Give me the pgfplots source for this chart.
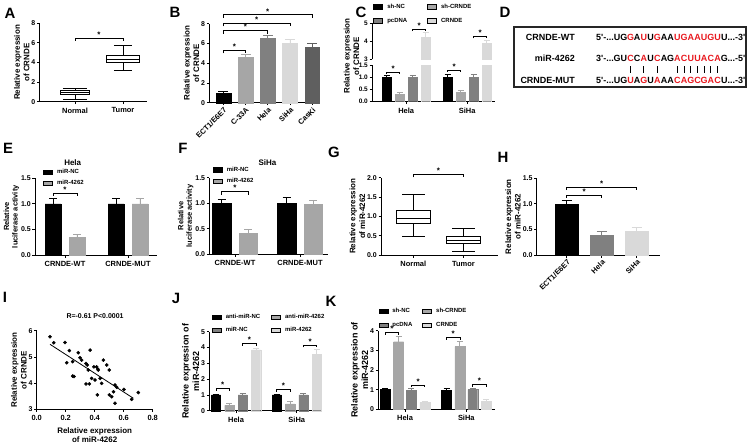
\documentclass[border=0pt]{standalone}
\usepackage{fontspec}
\setmainfont{Liberation Sans}
\usepackage{pgfplots}
\pgfplotsset{compat=1.18}
\usepgfplotslibrary{statistics}

\definecolor{ga}{HTML}{A6A6A6}
\definecolor{gb}{HTML}{808080}
\definecolor{gc}{HTML}{D9D9D9}
\definecolor{gd}{HTML}{5F5F5F}
\definecolor{sred}{HTML}{E8191F}

\newcommand\tlf{\fontsize{7}{8}\selectfont\bfseries}
\newcommand\xtf{\fontsize{7.5}{8}\selectfont\bfseries}
\newcommand\lbf{\fontsize{8}{9.6}\selectfont\bfseries}
\newcommand\lbs{\fontsize{7.5}{8.5}\selectfont\bfseries}
\newcommand\lbb{\fontsize{9}{10.5}\selectfont\bfseries}
\newcommand\lgf{\fontsize{6}{7}\selectfont\bfseries}
\newcommand\plf{\fontsize{15}{15}\selectfont\bfseries}
\newcommand\sqf{\fontsize{9}{10}\selectfont\bfseries}
\newcommand\sqa[1]{\makebox[6.7bp][c]{#1}}
\newcommand\sqr[1]{\makebox[6.7bp][c]{\color{sred}#1}}
\newcommand\sqb{\makebox[6.7bp][c]{\rule{0.9bp}{7bp}}}
\newcommand\sqn{\makebox[6.7bp][c]{}}

\tikzset{sig/.style={anchor=base, inner sep=0pt, font=\fontsize{8}{8}\selectfont\bfseries, yshift=0.8bp}}

\pgfplotsset{
  prism/.style={
    scale only axis, anchor=south west, clip=false,
    axis lines*=left,
    axis line style={line width=0.8bp, black},
    every tick/.style={line width=0.8bp, black},
    tick align=outside, major tick length=2.5bp,
    yticklabel style={font=\tlf, inner sep=1.5bp},
    xticklabel style={font=\xtf},
    ylabel style={font=\lbf, align=center},
    xlabel style={font=\lbf, align=center},
    ylabel shift=-3bp,
    boxplot/draw direction=y,
    /pgf/number format/assume math mode=true,
  },
  dec1/.style={yticklabel style={/pgf/number format/fixed, /pgf/number format/fixed zerofill, /pgf/number format/precision=1}},
  bb/.style n args={3}{ybar, bar width=#1, bar shift=0, fill=#2, draw=#2, forget plot,
     error bars/.cd, y dir=plus, y explicit,
     error bar style={line width=0.8bp, draw=#2},
     error mark options={rotate=90, line width=0.8bp, mark size=#3, draw=#2}},
  brk/.style={black, line width=0.7bp, forget plot, mark=none},
  leg/.style={legend image code/.code={\fill[##1] (0bp,-2.2bp) rectangle (9bp,2.2bp);},
     legend cell align=left,
     legend style={draw=none, fill=none, inner sep=0pt, font=\lgf, anchor=north west,
       /tikz/every odd column/.append style={column sep=2.5bp}}},
}

\begin{document}
\begin{tikzpicture}
\path[use as bounding box] (0,0) rectangle (752bp,-444bp);

% ---------------- A ----------------
\begin{axis}[prism, at={(39.5bp,-101.7bp)}, width=107.2bp, height=78.4bp,
  xmin=0.261, xmax=2.493, ymin=0, ymax=8, ytick={0,2,4,6,8},
  xtick={1,2}, xticklabels={Normal,Tumor}, ylabel={Relative expression\\of CRNDE}]
\addplot[black, line width=0.8bp, fill=white, boxplot prepared={draw position=1,
  lower whisker=0.24, lower quartile=0.7, median=0.92, upper quartile=1.15, upper whisker=1.38,
  box extend=0.6, whisker extend=0.5}] coordinates {};
\addplot[black, line width=0.8bp, fill=white, boxplot prepared={draw position=2,
  lower whisker=3.23, lower quartile=3.98, median=4.32, upper quartile=4.7, upper whisker=5.72,
  box extend=0.7, whisker extend=0.38}] coordinates {};
\addplot[brk] coordinates {(1,6.2) (1,6.5) (2,6.5) (2,6.2)};
\node[sig] at (axis cs:1.5,6.5) {*};
\end{axis}

% ---------------- B ----------------
\begin{axis}[prism, at={(209.3bp,-102.7bp)}, width=108.7bp, height=79bp,
  xmin=-0.63, xmax=4.26, ymin=0, ymax=8, ytick={0,2,4,6,8},
  xtick={0,1,2,3,4}, xticklabels={ECT1/E6E7,C-33A,Hela,SiHa,CasKi},
  xticklabel style={rotate=45, anchor=north east, inner sep=1bp},
  ylabel={Relative expression\\of CRNDE}]
\addplot[bb={0.67}{black}{5bp}] coordinates {(0,1.0) +- (0,0.12)};
\addplot[bb={0.67}{ga}{5bp}] coordinates {(1,4.6) +- (0,0.3)};
\addplot[bb={0.67}{gb}{5bp}] coordinates {(2,6.5) +- (0,0.33)};
\addplot[bb={0.67}{gc}{5bp}] coordinates {(3,6.05) +- (0,0.37)};
\addplot[bb={0.67}{gd}{5bp}] coordinates {(4,5.57) +- (0,0.42)};
\addplot[brk] coordinates {(0,5.0) (0,5.34) (1,5.34) (1,5.0)};
\addplot[brk] coordinates {(0,7.0) (0,7.3) (2,7.3) (2,7.0)};
\addplot[brk] coordinates {(0,7.74) (0,8.04) (3,8.04) (3,7.74)};
\addplot[brk] coordinates {(0,8.6) (0,8.9) (4,8.9) (4,8.6)};
\node[sig] at (axis cs:0.5,5.34) {*};
\node[sig] at (axis cs:1,7.3) {*};
\node[sig] at (axis cs:1.5,8.04) {*};
\node[sig] at (axis cs:2,8.9) {*};
\end{axis}

% ---------------- C (broken axis) ----------------
\begin{axis}[prism, leg, clip=true, clip mode=individual, at={(372bp,-101.7bp)}, width=123bp, height=36.7bp,
  yticklabel style={font=\fontsize{6.5}{7}\selectfont\bfseries}, dec1,
  xmin=0.439, xmax=2.456, ymin=0, ymax=1.5, ytick={0,0.5,1,1.5},
  xtick={1,2}, xticklabels={Hela,SiHa},
  legend columns=2,
  legend style={at={(0.01,2.73)}, row sep=4.5bp, /tikz/every even column/.append style={column sep=18bp}}]
\addlegendimage{fill=black}\addlegendentry{sh-NC}
\addlegendimage{fill=ga}\addlegendentry{sh-CRNDE}
\addlegendimage{fill=gb}\addlegendentry{pcDNA}
\addlegendimage{fill=gc}\addlegendentry{CRNDE}
\addplot[bb={0.15}{black}{3bp}] coordinates {(0.68,1.0) +- (0,0.09) (1.68,1.0) +- (0,0.12)};
\addplot[bb={0.15}{ga}{3bp}] coordinates {(0.894,0.30) +- (0,0.06) (1.894,0.38) +- (0,0.07)};
\addplot[bb={0.15}{gb}{3bp}] coordinates {(1.106,1.0) +- (0,0.06) (2.106,1.0) +- (0,0.12)};
\addplot[bb={0.15}{gc}{3bp}] coordinates {(1.32,4.22) +- (0,0.28) (2.32,3.89) +- (0,0.14)};
\addplot[brk] coordinates {(0.68,1.15) (0.68,1.22) (0.894,1.22) (0.894,1.15)};
\addplot[brk] coordinates {(1.68,1.22) (1.68,1.29) (1.894,1.29) (1.894,1.22)};
\node[sig] at (axis cs:0.787,1.22) {*};
\node[sig] at (axis cs:1.787,1.29) {*};
\end{axis}
\begin{axis}[prism, clip=true, clip mode=individual, at={(372bp,-59.3bp)}, width=123bp, height=36bp,
  yticklabel style={font=\fontsize{6.5}{7}\selectfont\bfseries},
  axis x line=none, axis y line*=left,
  xmin=0.439, xmax=2.456, ymin=3, ymax=5, ytick={3,4,5}]
\addplot[bb={0.15}{gc}{3bp}] coordinates {(1.32,4.22) +- (0,0.28) (2.32,3.89) +- (0,0.14)};
\addplot[brk] coordinates {(1.106,4.57) (1.106,4.67) (1.32,4.67) (1.32,4.57)};
\addplot[brk] coordinates {(2.106,4.16) (2.106,4.26) (2.32,4.26) (2.32,4.16)};
\node[sig] at (axis cs:1.213,4.67) {*};
\node[sig] at (axis cs:2.213,4.26) {*};
\end{axis}

% ---------------- E ----------------
\begin{axis}[prism, dec1, leg, at={(35bp,-255bp)}, width=121.7bp, height=76.7bp,
  xmin=0.524, xmax=2.456, ymin=0, ymax=1.5, ytick={0,0.5,1,1.5},
  xtick={1,2}, xticklabels={CRNDE-WT,CRNDE-MUT},
  ylabel={Relative\\luciferase activity}, ylabel style={font=\lbs},
  legend style={at={(0.066,1.15)}, row sep=1.5bp}]
\addlegendimage{fill=black}\addlegendentry{miR-NC}
\addlegendimage{fill=ga}\addlegendentry{miR-4262}
\addplot[bb={0.25}{black}{4bp}] coordinates {(0.81,1.0) +- (0,0.1) (1.81,1.0) +- (0,0.1)};
\addplot[bb={0.25}{ga}{4bp}] coordinates {(1.19,0.35) +- (0,0.055) (2.19,1.0) +- (0,0.1)};
\addplot[brk] coordinates {(0.81,1.15) (0.81,1.21) (1.19,1.21) (1.19,1.15)};
\node[sig] at (axis cs:1,1.21) {*};
\node[font=\lbf] at (rel axis cs:0.31,1.2) {Hela};
\end{axis}

% ---------------- F ----------------
\begin{axis}[prism, dec1, leg, at={(209.3bp,-254.3bp)}, width=118.7bp, height=76.6bp,
  xmin=0.605, xmax=2.43, ymin=0, ymax=1.5, ytick={0,0.5,1,1.5},
  xtick={1,2}, xticklabels={CRNDE-WT,CRNDE-MUT},
  ylabel={Relative\\luciferase activity}, ylabel style={font=\lbs},
  legend style={at={(0.029,1.17)}, row sep=1.5bp}]
\addlegendimage{fill=black}\addlegendentry{miR-NC}
\addlegendimage{fill=ga}\addlegendentry{miR-4262}
\addplot[bb={0.28}{black}{4bp}] coordinates {(0.795,1.0) +- (0,0.08) (1.795,1.0) +- (0,0.12)};
\addplot[bb={0.28}{ga}{4bp}] coordinates {(1.205,0.41) +- (0,0.08) (2.205,0.98) +- (0,0.08)};
\addplot[brk] coordinates {(0.795,1.17) (0.795,1.23) (1.205,1.23) (1.205,1.17)};
\node[sig] at (axis cs:1,1.23) {*};
\node[font=\lbf] at (rel axis cs:0.49,1.196) {SiHa};
\end{axis}

% ---------------- G ----------------
\begin{axis}[prism, dec1, at={(381bp,-255bp)}, width=117bp, height=77.3bp,
  xmin=0.354, xmax=2.69, ymin=0, ymax=2, ytick={0,0.5,1,1.5,2},
  xtick={1,2}, xticklabels={Normal,Tumor}, ylabel={Relative expression\\of miR-4262}]
\addplot[black, line width=0.8bp, fill=white, boxplot prepared={draw position=1,
  lower whisker=0.49, lower quartile=0.82, median=0.94, upper quartile=1.16, upper whisker=1.57,
  box extend=0.67, whisker extend=0.45}] coordinates {};
\addplot[black, line width=0.8bp, fill=white, boxplot prepared={draw position=2,
  lower whisker=0.09, lower quartile=0.30, median=0.39, upper quartile=0.47, upper whisker=0.69,
  box extend=0.67, whisker extend=0.45}] coordinates {};
\addplot[brk] coordinates {(1,2.01) (1,2.09) (2,2.09) (2,2.01)};
\node[sig] at (axis cs:1.5,2.09) {*};
\end{axis}

% ---------------- H ----------------
\begin{axis}[prism, dec1, at={(536.7bp,-255bp)}, width=123.3bp, height=76.7bp,
  xmin=-0.857, xmax=2.666, ymin=0, ymax=1.5, ytick={0,0.5,1,1.5},
  xtick={0,1,2}, xticklabels={ECT1/E6E7,Hela,SiHa},
  xticklabel style={rotate=45, anchor=north east, inner sep=1bp},
  ylabel={Relative expression\\of miR-4262}]
\addplot[bb={0.66}{black}{5bp}] coordinates {(0,1.0) +- (0,0.07)};
\addplot[bb={0.66}{gb}{5bp}] coordinates {(1,0.38) +- (0,0.08)};
\addplot[bb={0.66}{gc}{5bp}] coordinates {(2,0.475) +- (0,0.065)};
\addplot[brk] coordinates {(0,1.12) (0,1.17) (1,1.17) (1,1.12)};
\addplot[brk] coordinates {(0,1.27) (0,1.32) (2,1.32) (2,1.27)};
\node[sig] at (axis cs:0.5,1.17) {*};
\node[sig] at (axis cs:1,1.32) {*};
\end{axis}

% ---------------- I ----------------
\begin{axis}[prism, at={(36.7bp,-409.3bp)}, width=116bp, height=78.6bp,
  xmin=0, xmax=0.8, ymin=3, ymax=6, xtick={0,0.2,0.4,0.6,0.8}, ytick={3,4,5,6},
  xticklabel style={/pgf/number format/fixed, /pgf/number format/fixed zerofill, /pgf/number format/precision=1},
  xlabel={Relative expression\\of miR-4262}, ylabel={Relative expression\\of CRNDE}]
\addplot[only marks, mark=*, mark size=1.6bp, black] coordinates {
 (0.092,5.77) (0.117,5.54) (0.195,5.55) (0.225,5.24) (0.207,4.78) (0.248,4.82)
 (0.248,4.27) (0.257,4.25) (0.287,5.16) (0.299,4.97) (0.310,4.88) (0.340,4.75)
 (0.368,5.26) (0.349,4.69) (0.356,4.50) (0.340,3.97) (0.363,3.97) (0.379,4.18)
 (0.395,4.62) (0.414,4.62) (0.421,4.54) (0.402,4.12) (0.425,4.50) (0.437,4.18)
 (0.448,3.99) (0.460,4.88) (0.483,4.69) (0.501,4.50) (0.418,3.55) (0.501,3.55)
 (0.517,3.48) (0.529,3.67) (0.540,3.93) (0.552,3.84) (0.540,3.23) (0.602,3.76)
 (0.655,3.38) (0.701,3.64)};
\addplot[black, line width=0.8bp] coordinates {(0.092,5.48) (0.667,3.42)};
\node[font=\tlf] at (rel axis cs:0.503,1.187) {R=-0.61 P<0.0001};
\end{axis}

% ---------------- J ----------------
\begin{axis}[prism, leg, at={(209.3bp,-410.7bp)}, width=112.4bp, height=79bp,
  xmin=0.56, xmax=2.41, ymin=0, ymax=5, ytick={0,1,2,3,4,5},
  xtick={1,2}, xticklabels={Hela,SiHa},
  ylabel={Relative expression of\\miR-4262}, ylabel style={font=\lbb},
  legend columns=2,
  legend style={at={(0.021,1.25)}, row sep=3.5bp, /tikz/every even column/.append style={column sep=9bp}}]
\addlegendimage{fill=black}\addlegendentry{anti-miR-NC}
\addlegendimage{fill=ga}\addlegendentry{anti-miR-4262}
\addlegendimage{fill=gb}\addlegendentry{miR-NC}
\addlegendimage{fill=gc}\addlegendentry{miR-4262}
\addplot[bb={0.153}{black}{3bp}] coordinates {(0.67,1.0) +- (0,0.06) (1.67,1.0) +- (0,0.06)};
\addplot[bb={0.153}{ga}{3bp}] coordinates {(0.89,0.33) +- (0,0.12) (1.89,0.43) +- (0,0.15)};
\addplot[bb={0.153}{gb}{3bp}] coordinates {(1.11,1.0) +- (0,0.08) (2.11,1.0) +- (0,0.1)};
\addplot[bb={0.153}{gc}{3bp}] coordinates {(1.33,3.85) +- (0,0.12) (2.33,3.58) +- (0,0.3)};
\addplot[brk] coordinates {(0.67,1.24) (0.67,1.39) (0.89,1.39) (0.89,1.24)};
\addplot[brk] coordinates {(1.11,4.11) (1.11,4.26) (1.33,4.26) (1.33,4.11)};
\addplot[brk] coordinates {(1.67,1.20) (1.67,1.35) (1.89,1.35) (1.89,1.20)};
\addplot[brk] coordinates {(2.11,4.01) (2.11,4.16) (2.33,4.16) (2.33,4.01)};
\node[sig] at (axis cs:0.78,1.39) {*};
\node[sig] at (axis cs:1.22,4.26) {*};
\node[sig] at (axis cs:1.78,1.35) {*};
\node[sig] at (axis cs:2.22,4.16) {*};
\end{axis}

% ---------------- K ----------------
\begin{axis}[prism, leg, at={(378.3bp,-409.3bp)}, width=116.7bp, height=78.6bp,
  xmin=0.564, xmax=2.468, ymin=0, ymax=4, ytick={0,1,2,3,4},
  xtick={1,2}, xticklabels={Hela,SiHa},
  ylabel={Relative expression of\\miR-4262}, ylabel style={font=\lbb},
  legend columns=2,
  legend style={at={(0.0,1.31)}, row sep=4bp, /tikz/every even column/.append style={column sep=8bp}}]
\addlegendimage{fill=black}\addlegendentry{sh-NC}
\addlegendimage{fill=ga}\addlegendentry{sh-CRNDE}
\addlegendimage{fill=gb}\addlegendentry{pcDNA}
\addlegendimage{fill=gc}\addlegendentry{CRNDE}
\addplot[bb={0.163}{black}{3bp}] coordinates {(0.677,1.0) +- (0,0.08) (1.677,0.98) +- (0,0.06)};
\addplot[bb={0.163}{ga}{3bp}] coordinates {(0.895,3.44) +- (0,0.25) (1.895,3.19) +- (0,0.28)};
\addplot[bb={0.163}{gb}{3bp}] coordinates {(1.105,0.98) +- (0,0.08) (2.105,1.0) +- (0,0.04)};
\addplot[bb={0.163}{gc}{3bp}] coordinates {(1.323,0.34) +- (0,0.04) (2.323,0.42) +- (0,0.08)};
\addplot[brk] coordinates {(0.677,3.80) (0.677,3.92) (0.895,3.92) (0.895,3.80)};
\addplot[brk] coordinates {(1.105,1.12) (1.105,1.24) (1.323,1.24) (1.323,1.12)};
\addplot[brk] coordinates {(1.677,3.54) (1.677,3.66) (1.895,3.66) (1.895,3.54)};
\addplot[brk] coordinates {(2.105,1.15) (2.105,1.27) (2.323,1.27) (2.323,1.15)};
\node[sig] at (axis cs:0.786,3.92) {*};
\node[sig] at (axis cs:1.214,1.24) {*};
\node[sig] at (axis cs:1.786,3.66) {*};
\node[sig] at (axis cs:2.214,1.27) {*};
\end{axis}

% ---------------- labels, D panel ----------------
\begin{scope}[x=1bp,y=-1bp]
\node[font=\lbf, rotate=90, align=center] at (351.5,56) {Relative expression\\of CRNDE};
\foreach \t/\x/\y in {A/10/13,B/175/12,C/361/12,D/505/12,E/8/148,F/183/148,G/334/152,H/503/157,I/5/297,J/176/298,K/331/301}
  \node[font=\plf, inner sep=0pt] at (\x,\y) {\t};
\draw[line width=1.1bp, black!85] (514,27) rectangle (746,87);
\node[font=\sqf, anchor=base east, inner sep=0pt] at (575,40) {CRNDE-WT};
\node[font=\sqf, anchor=base east, inner sep=0pt] at (575,61.5) {miR-4262};
\node[font=\sqf, anchor=base east, inner sep=0pt] at (575,83.2) {CRNDE-MUT};
\node[font=\sqf, anchor=base west, inner sep=0pt] at (596,40)
 {5\textquotesingle-...\sqa{U}\sqa{G}\sqr{G}\sqa{A}\sqr{U}\sqa{U}\sqr{G}\sqa{A}\sqa{A}\sqr{U}\sqr{G}\sqr{A}\sqr{A}\sqr{U}\sqr{G}\sqr{U}\sqa{U}...-3\textquotesingle};
\node[font=\sqf, anchor=base west, inner sep=0pt] at (596,61.5)
 {3\textquotesingle-...\sqa{G}\sqa{U}\sqr{C}\sqa{C}\sqr{A}\sqa{U}\sqr{C}\sqa{A}\sqa{G}\sqr{A}\sqr{C}\sqr{U}\sqr{U}\sqr{A}\sqr{C}\sqr{A}\sqa{G}...-5\textquotesingle};
\node[font=\sqf, anchor=base west, inner sep=0pt] at (596,72.5)
 {\phantom{5\textquotesingle-...}\sqn\sqn\sqb\sqn\sqb\sqn\sqb\sqn\sqn\sqb\sqb\sqb\sqb\sqb\sqb\sqb\sqn};
\node[font=\sqf, anchor=base west, inner sep=0pt] at (596,83.2)
 {5\textquotesingle-...\sqa{U}\sqa{G}\sqr{U}\sqa{A}\sqr{G}\sqa{U}\sqr{A}\sqa{A}\sqa{A}\sqr{C}\sqr{A}\sqr{G}\sqr{C}\sqr{G}\sqr{A}\sqr{C}\sqa{U}...-3\textquotesingle};
\end{scope}
\end{tikzpicture}
\end{document}
